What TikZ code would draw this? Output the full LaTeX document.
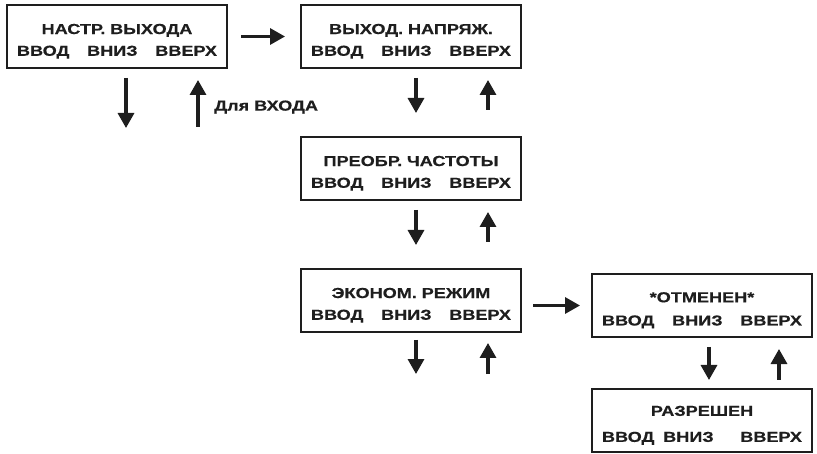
\documentclass[tikz,border=0pt]{standalone}
\usepackage{fontspec}
\usepackage{xcolor}
\usepackage{tikz}
\usetikzlibrary{arrows.meta, positioning}

\newfontfamily\panelfont{Liberation Sans}[FakeStretch=1.25, FakeBold=0.4]
\definecolor{ink}{HTML}{1E1E1E}
\newcommand{\keyrow}{\makebox[5cm]{ВВОД\hfill ВНИЗ\hfill ВВЕРХ}}
\newcommand{\toprule}{\rule{0pt}{14pt}}

\begin{document}
\begin{tikzpicture}[
    font=\panelfont\bfseries\fontsize{10.3}{15.5}\selectfont,
    menu/.style={rectangle, draw=ink, line width=1.4pt, outer sep=0pt, text=ink, text width=5cm, align=center, inner xsep=0.25cm, minimum height=1.575cm},
    arr/.style={draw=ink, line width=2.3pt, -{Triangle[length=0.375cm, width=0.4cm]}},
    lbl/.style={text=ink, inner sep=0pt}
]
\useasboundingbox (0,0) rectangle (20.425,-11.35);

% menu screens
\node [menu] (b1) at (2.925,-0.9125) {\toprule НАСТР. ВЫХОДА\\\keyrow};
\node [menu, right=1.85cm of b1] (b2) {\toprule ВЫХОД. НАПРЯЖ.\\\keyrow};
\node [menu, below=1.725cm of b2] (b3) {\toprule ПРЕОБР. ЧАСТОТЫ\\\keyrow};
\node [menu, below=1.725cm of b3] (b4) {\toprule ЭКОНОМ. РЕЖИМ\\\keyrow};
\node [menu, anchor=north west] (b5) at ([xshift=1.775cm, yshift=-0.125cm]b4.north east) {\toprule *ОТМЕНЕН*\\[1pt]\keyrow};
\node [menu, below=1.3cm of b5] (b6) {\toprule РАЗРЕШЕН\\[3pt]\makebox[5cm]{ВВОД\hspace{0.22cm}ВНИЗ\hfill ВВЕРХ}};

% sideways steps
\draw [arr, shorten <=0.35cm, shorten >=0.4cm] (b1) -- (b2);
\draw [arr, shorten <=0.3cm, shorten >=0.3cm] (b4.east |- b5.west) -- (b5.west);

% up and down between screens
\foreach \u/\l in {b2/b3, b3/b4} {
    \draw [arr, shorten <=0.25cm, shorten >=0.6cm] ([xshift=0.125cm]\u.south) -- ([xshift=0.125cm]\l.north);
    \draw [arr, shorten <=0.675cm, shorten >=0.3cm] ([xshift=1.925cm]\l.north) -- ([xshift=1.925cm]\u.south);
}
\draw [arr, shorten <=0.25cm, shorten >=0.225cm] ([xshift=0.175cm]b5.south) -- ([xshift=0.175cm]b6.north);
\draw [arr, shorten <=0.225cm, shorten >=0.3cm] ([xshift=1.925cm]b6.north) -- ([xshift=1.925cm]b5.south);

% open ends
\coordinate (b1dn) at ([xshift=0.225cm, yshift=-1.5cm]b1.south);
\coordinate (b1up) at ([xshift=2.025cm, yshift=-1.475cm]b1.south);
\draw [arr, shorten <=0.25cm] ([xshift=0.225cm]b1.south) -- (b1dn);
\draw [arr, shorten >=0.3cm] (b1up) -- ([xshift=2.025cm]b1.south);
\node [lbl, anchor=west] (entry) at ([xshift=0.4cm, yshift=0.5cm]b1up) {Для ВХОДА};

\coordinate (b4dn) at ([xshift=0.125cm, yshift=-1.05cm]b4.south);
\coordinate (b4up) at ([xshift=1.925cm, yshift=-1.05cm]b4.south);
\draw [arr, shorten <=0.2cm] ([xshift=0.125cm]b4.south) -- (b4dn);
\draw [arr, shorten >=0.275cm] (b4up) -- ([xshift=1.925cm]b4.south);
\end{tikzpicture}
\end{document}
